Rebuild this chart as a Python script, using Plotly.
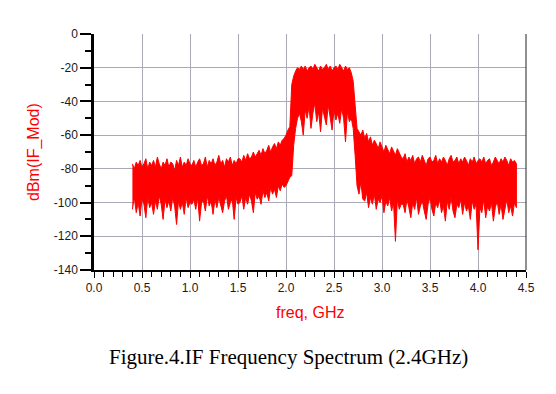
import plotly.graph_objects as go

# Frequency grid (GHz) and envelope of the spectrum (dBm)
freq = [
    0.40, 0.42, 0.44, 0.46, 0.48, 0.50, 0.52, 0.54, 0.56, 0.58, 0.60, 0.62, 0.64, 0.66, 0.68, 0.70,
    0.72, 0.74, 0.76, 0.78, 0.80, 0.82, 0.84, 0.86, 0.88, 0.90, 0.92, 0.94, 0.96, 0.98, 1.00,
    1.02, 1.04, 1.06, 1.08, 1.10, 1.12, 1.14, 1.16, 1.18, 1.20, 1.22, 1.24, 1.26, 1.28, 1.30,
    1.32, 1.34, 1.36, 1.38, 1.40, 1.42, 1.44, 1.46, 1.48, 1.50,
    1.52, 1.54, 1.56, 1.58, 1.60, 1.62, 1.64, 1.66, 1.68, 1.70, 1.72, 1.74, 1.76, 1.78, 1.80,
    1.82, 1.84, 1.86, 1.88, 1.90, 1.92, 1.94, 1.96, 1.98,
    2.00, 2.02, 2.04, 2.06, 2.08, 2.10, 2.12, 2.14, 2.16,
    2.18, 2.20, 2.22, 2.24, 2.26, 2.28, 2.30, 2.32, 2.34, 2.36, 2.38, 2.40, 2.42, 2.44, 2.46,
    2.48, 2.50, 2.52, 2.54, 2.56, 2.58, 2.60, 2.62, 2.64, 2.66,
    2.68, 2.70, 2.72, 2.74, 2.76, 2.78, 2.80,
    2.82, 2.84, 2.86, 2.88, 2.90, 2.92, 2.94, 2.96, 2.98, 3.00, 3.02, 3.04, 3.06, 3.08, 3.10,
    3.12, 3.14, 3.16, 3.18, 3.20,
    3.22, 3.24, 3.26, 3.28, 3.30, 3.32, 3.34, 3.36, 3.38, 3.40, 3.42, 3.44, 3.46, 3.48, 3.50,
    3.52, 3.54, 3.56, 3.58, 3.60, 3.62, 3.64, 3.66, 3.68, 3.70, 3.72, 3.74, 3.76, 3.78, 3.80,
    3.82, 3.84, 3.86, 3.88, 3.90, 3.92, 3.94, 3.96, 3.98, 4.00, 4.02, 4.04, 4.06, 4.08, 4.10,
    4.12, 4.14, 4.16, 4.18, 4.20, 4.22, 4.24, 4.26, 4.28, 4.30, 4.32, 4.34, 4.36, 4.38, 4.40,
]

top_dbm = [
    # 0.40 - 1.00
    -77, -80, -76, -78, -75, -79, -77, -74, -80, -76, -78, -75, -79, -73, -77, -80,
    -76, -78, -74, -79, -76, -77, -81, -75, -78, -73, -79, -76, -78, -74, -77,
    # 1.02 - 1.50
    -78, -75, -79, -76, -74, -78, -77, -73, -79, -75, -77, -74, -78, -76, -72,
    -77, -75, -79, -74, -76, -73, -78, -75, -77, -74,
    # 1.52 - 1.98
    -74, -76, -72, -75, -71, -74, -73, -70, -73, -71, -69, -72, -68, -71, -69,
    -66, -70, -67, -65, -68, -64, -66, -63, -62,
    # 2.00 - 2.16
    -60, -57, -55, -30, -25, -22, -20, -21, -19,
    # 2.18 - 2.66
    -21, -19, -22, -20, -19, -21, -18, -20, -22, -19, -21, -20, -18, -21, -19,
    -22, -20, -19, -21, -18, -20, -22, -19, -21, -20,
    # 2.68 - 2.80
    -23, -28, -40, -56, -58, -60, -57,
    # 2.82 - 3.20
    -62, -59, -64, -61, -66, -63, -65, -68, -64, -67, -70, -66, -69, -71, -67,
    -70, -72, -68, -71, -73,
    # 3.22 - 4.40
    -74, -71, -76, -73, -75, -72, -77, -74, -73, -76, -72, -75, -78, -74, -73,
    -76, -75, -72, -77, -74, -76, -73, -75, -78, -74, -72, -76, -75, -73, -77,
    -74, -76, -73, -75, -78, -74, -76, -73, -77, -75, -74, -76, -73, -77, -75,
    -74, -78, -76, -73, -75, -77, -74, -76, -73, -75, -78, -74, -76, -75, -77,
]

bottom_dbm = [
    # 0.40 - 1.00
    -104, -97, -106, -100, -108, -98, -101, -109, -97, -103, -100, -107, -99, -104, -96, -101,
    -110, -98, -103, -99, -105, -97, -102, -113, -99, -104, -100, -107, -97, -103, -100,
    # 1.02 - 1.50
    -101, -98, -104, -97, -111, -100, -99, -105, -96, -102, -99, -107, -98, -103, -97,
    -101, -106, -99, -96, -104, -100, -98, -110, -97, -101,
    # 1.52 - 1.98
    -100, -96, -104, -97, -101, -95, -99, -106, -94, -98, -96, -101, -93, -97, -94,
    -99, -91, -95, -92, -97, -90, -93, -89, -91,
    # 2.00 - 2.16
    -90, -88, -85, -84, -66, -56, -50, -47, -52,
    # 2.18 - 2.66
    -60, -45, -50, -43, -56, -47, -41, -52, -46, -58, -44, -49, -54, -42, -48,
    -57, -45, -51, -47, -53, -44, -50, -64, -46, -52,
    # 2.68 - 2.80
    -50, -56, -72, -90, -95, -88, -98,
    # 2.82 - 3.20
    -99, -94, -103, -97, -101, -95, -104, -98, -100, -96, -106, -99, -102, -97, -105,
    -100, -123, -98, -104, -101,
    # 3.22 - 4.40
    -101, -106, -98, -103, -109, -100, -104, -97, -107, -102, -99, -105, -110, -101, -97,
    -104, -108, -100, -103, -98, -106, -102, -111, -99, -104, -97, -105, -109, -101, -103,
    -98, -107, -100, -105, -102, -110, -99, -104, -101, -128, -103, -106, -98, -109, -102,
    -105, -100, -111, -103, -99, -107, -101, -110, -104, -98, -106, -102, -108, -100, -103,
]

x_tick_vals = [0.0, 0.5, 1.0, 1.5, 2.0, 2.5, 3.0, 3.5, 4.0, 4.5]
x_tick_labels = ["0.0", "0.5", "1.0", "1.5", "2.0", "2.5", "3.0", "3.5", "4.0", "4.5"]
y_tick_vals = [0, -20, -40, -60, -80, -100, -120, -140]
y_tick_labels = ["0", "-20", "-40", "-60", "-80", "-100", "-120", "-140"]

RED = "#ff0000"
GRID = "#a9a9b8"
TICKFONT = dict(family="Arial, Liberation Sans, sans-serif", size=12, color="#1a1a1a")

fig = go.Figure()
fig.add_trace(go.Scatter(
    x=freq + freq[::-1],
    y=top_dbm + bottom_dbm[::-1],
    mode="lines",
    fill="toself",
    fillcolor=RED,
    line=dict(color=RED, width=1),
    hoverinfo="skip",
    showlegend=False,
))

fig.update_layout(
    width=556, height=394,
    margin=dict(l=94, r=30, t=34, b=124, autoexpand=False),
    paper_bgcolor="white", plot_bgcolor="white",
    showlegend=False,
    xaxis=dict(
        range=[0, 4.5], tickmode="array", tickvals=x_tick_vals, ticktext=x_tick_labels,
        showgrid=True, gridcolor=GRID, gridwidth=1, zeroline=False, automargin=False,
        showline=True, linecolor="black", linewidth=1.5,
        ticks="outside", ticklen=6, tickcolor="black", tickwidth=1,
        minor=dict(dtick=0.1, ticks="outside", ticklen=5, tickcolor="black", showgrid=False),
        tickfont=TICKFONT,
    ),
    yaxis=dict(
        range=[-140, 0], tickmode="array", tickvals=y_tick_vals, ticktext=y_tick_labels,
        showgrid=True, gridcolor=GRID, gridwidth=1, zeroline=False, automargin=False,
        showline=True, linecolor="black", linewidth=2.5,
        ticks="outside", ticklen=11, tickcolor="black", tickwidth=1.5,
        minor=dict(dtick=10, ticks="outside", ticklen=6, tickcolor="black", showgrid=False),
        tickfont=TICKFONT,
    ),
    shapes=[dict(type="line", xref="paper", yref="paper", x0=1, x1=1, y0=0, y1=1,
                 line=dict(color="#222222", width=1))],
    annotations=[
        dict(text="dBm(IF_Mod)", xref="paper", yref="paper", x=0, y=0.5, xshift=-60,
             xanchor="center", yanchor="middle", textangle=-90, showarrow=False,
             font=dict(family="Arial, Liberation Sans, sans-serif", size=16, color=RED)),
        dict(text="freq, GHz", xref="paper", yref="paper", x=0.5, y=0, yshift=-42,
             xanchor="center", yanchor="middle", showarrow=False,
             font=dict(family="Arial, Liberation Sans, sans-serif", size=16, color=RED)),
        dict(text="Figure.4.IF Frequency Spectrum (2.4GHz)", xref="paper", yref="paper",
             x=0.5, y=0, xshift=-22, yshift=-87, xanchor="center", yanchor="middle",
             showarrow=False,
             font=dict(family="Liberation Serif, Times New Roman, serif", size=21, color="black")),
    ],
)

fig.write_html("out.html", config={"displayModeBar": False},
               post_script="document.body.style.margin='0';")
